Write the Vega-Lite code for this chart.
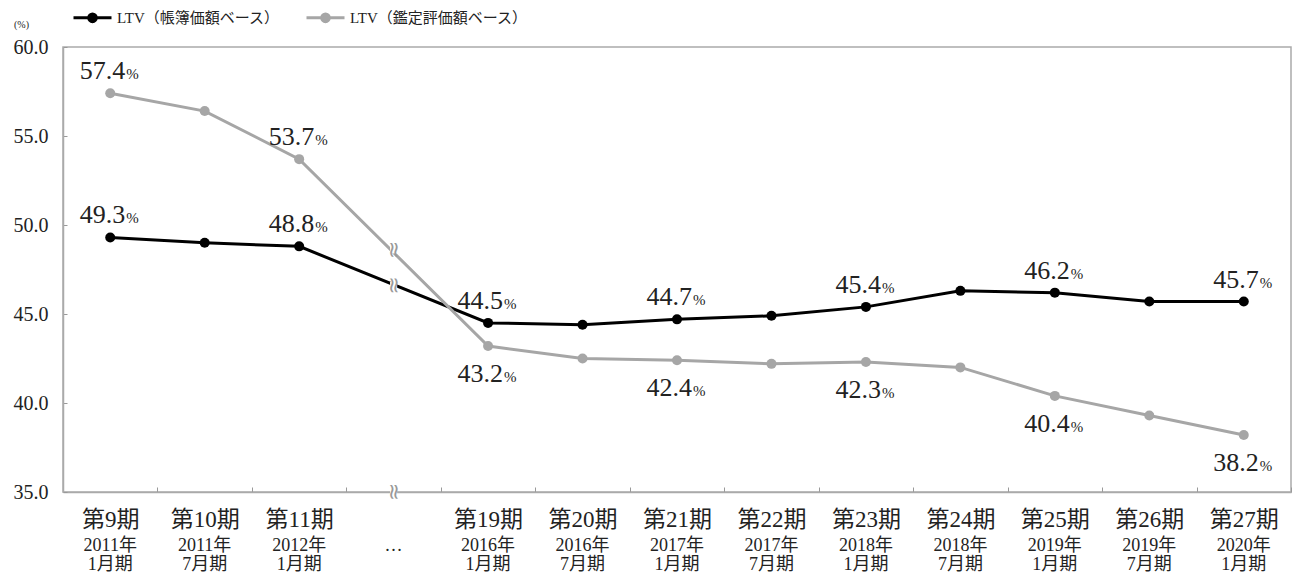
{
  "$schema": "https://vega.github.io/schema/vega-lite/v6.json",
  "width": 1228,
  "height": 445,
  "autosize": "none",
  "padding": {"left": 63, "top": 47, "right": 3, "bottom": 83},
  "background": "white",
  "config": {
    "view": {"stroke": "#aaaaaa", "strokeWidth": 1.5},
    "font": "Liberation Serif, Noto Sans CJK JP"
  },
  "datasets": {
    "ltv": [
      {"cat": "第9期|2011年|1月期", "series": "LTV（帳簿価額ベース）", "value": 49.3, "labeled": 1},
      {"cat": "第10期|2011年|7月期", "series": "LTV（帳簿価額ベース）", "value": 49.0, "labeled": 0},
      {"cat": "第11期|2012年|1月期", "series": "LTV（帳簿価額ベース）", "value": 48.8, "labeled": 1},
      {"cat": "第19期|2016年|1月期", "series": "LTV（帳簿価額ベース）", "value": 44.5, "labeled": 1},
      {"cat": "第20期|2016年|7月期", "series": "LTV（帳簿価額ベース）", "value": 44.4, "labeled": 0},
      {"cat": "第21期|2017年|1月期", "series": "LTV（帳簿価額ベース）", "value": 44.7, "labeled": 1},
      {"cat": "第22期|2017年|7月期", "series": "LTV（帳簿価額ベース）", "value": 44.9, "labeled": 0},
      {"cat": "第23期|2018年|1月期", "series": "LTV（帳簿価額ベース）", "value": 45.4, "labeled": 1},
      {"cat": "第24期|2018年|7月期", "series": "LTV（帳簿価額ベース）", "value": 46.3, "labeled": 0},
      {"cat": "第25期|2019年|1月期", "series": "LTV（帳簿価額ベース）", "value": 46.2, "labeled": 1},
      {"cat": "第26期|2019年|7月期", "series": "LTV（帳簿価額ベース）", "value": 45.7, "labeled": 0},
      {"cat": "第27期|2020年|1月期", "series": "LTV（帳簿価額ベース）", "value": 45.7, "labeled": 1},
      {"cat": "第9期|2011年|1月期", "series": "LTV（鑑定評価額ベース）", "value": 57.4, "labeled": 1},
      {"cat": "第10期|2011年|7月期", "series": "LTV（鑑定評価額ベース）", "value": 56.4, "labeled": 0},
      {"cat": "第11期|2012年|1月期", "series": "LTV（鑑定評価額ベース）", "value": 53.7, "labeled": 1},
      {"cat": "第19期|2016年|1月期", "series": "LTV（鑑定評価額ベース）", "value": 43.2, "labeled": 1},
      {"cat": "第20期|2016年|7月期", "series": "LTV（鑑定評価額ベース）", "value": 42.5, "labeled": 0},
      {"cat": "第21期|2017年|1月期", "series": "LTV（鑑定評価額ベース）", "value": 42.4, "labeled": 1},
      {"cat": "第22期|2017年|7月期", "series": "LTV（鑑定評価額ベース）", "value": 42.2, "labeled": 0},
      {"cat": "第23期|2018年|1月期", "series": "LTV（鑑定評価額ベース）", "value": 42.3, "labeled": 1},
      {"cat": "第24期|2018年|7月期", "series": "LTV（鑑定評価額ベース）", "value": 42.0, "labeled": 0},
      {"cat": "第25期|2019年|1月期", "series": "LTV（鑑定評価額ベース）", "value": 40.4, "labeled": 1},
      {"cat": "第26期|2019年|7月期", "series": "LTV（鑑定評価額ベース）", "value": 39.3, "labeled": 0},
      {"cat": "第27期|2020年|1月期", "series": "LTV（鑑定評価額ベース）", "value": 38.2, "labeled": 1}
    ],
    "breaks": [
      {"cat": " |…| ", "value": 48.6},
      {"cat": " |…| ", "value": 46.6},
      {"cat": " |…| ", "value": 35.0}
    ]
  },
  "data": {"name": "ltv"},
  "resolve": {"axis": {"x": "independent"}},
  "layer": [
    {
      "mark": {"type": "line", "strokeWidth": 3},
      "encoding": {
        "x": {
          "field": "cat", "type": "nominal", "bandPosition": 0.5,
          "scale": {"type": "band", "paddingInner": 0, "paddingOuter": 0,
            "domain": ["第9期|2011年|1月期", "第10期|2011年|7月期", "第11期|2012年|1月期", " |…| ", "第19期|2016年|1月期", "第20期|2016年|7月期", "第21期|2017年|1月期", "第22期|2017年|7月期", "第23期|2018年|1月期", "第24期|2018年|7月期", "第25期|2019年|1月期", "第26期|2019年|7月期", "第27期|2020年|1月期"]},
          "axis": {
            "orient": "bottom", "title": null, "labelAngle": 0,
            "labelExpr": "split(datum.label, '|')[0]",
            "labelFontSize": 23, "labelColor": "#222222", "labelPadding": 21,
            "tickBand": "extent", "tickSize": -5, "tickColor": "#999999",
            "domainColor": "#aaaaaa", "domainWidth": 1.5, "grid": false
          }
        },
        "y": {
          "field": "value", "type": "quantitative",
          "scale": {"domain": [35, 60], "nice": false, "zero": false},
          "axis": {
            "values": [35, 40, 45, 50, 55, 60], "format": ".1f", "grid": false,
            "labelFontSize": 20, "labelColor": "#222222", "labelPadding": 19,
            "tickSize": -4, "tickColor": "#999999", "domainColor": "#aaaaaa", "domainWidth": 1.5,
            "title": "(%)", "titleAngle": 0, "titleX": -42, "titleY": -23,
            "titleFontSize": 10, "titleFontWeight": "normal", "titleColor": "#222222",
            "titleAlign": "center", "titleBaseline": "middle"
          }
        },
        "color": {
          "field": "series", "type": "nominal",
          "scale": {"domain": ["LTV（帳簿価額ベース）", "LTV（鑑定評価額ベース）"], "range": ["#000000", "#a6a6a6"]},
          "legend": {
            "orient": "none", "legendX": 9, "legendY": -50, "direction": "horizontal",
            "title": null, "padding": 0,
            "symbolType": "M-1,0H1M-0.2,0A0.2,0.2,0,1,1,0.2,0A0.2,0.2,0,1,1,-0.2,0Z",
            "symbolSize": 1444, "symbolStrokeWidth": 3,
            "labelFontSize": 15, "labelColor": "#222222", "labelOffset": 4, "labelLimit": 0,
            "columnPadding": 20,
            "encode": {"symbols": {"update": {"fill": {"scale": "color", "field": "value"}, "stroke": {"scale": "color", "field": "value"}}}}
          }
        }
      }
    },
    {
      "mark": {"type": "point", "filled": true, "opacity": 1, "size": 100},
      "encoding": {
        "x": {
          "field": "cat", "type": "nominal", "bandPosition": 0.5,
          "axis": {
            "orient": "bottom", "title": null, "labelAngle": 0,
            "labelExpr": "[split(datum.label, '|')[1], split(datum.label, '|')[2]]",
            "labelFontSize": 18, "labelLineHeight": 19, "labelColor": "#222222",
            "labelPadding": 44, "ticks": false, "domain": false, "grid": false
          }
        },
        "y": {"field": "value", "type": "quantitative"},
        "color": {"field": "series", "type": "nominal", "legend": null}
      }
    },
    {
      "transform": [{"filter": "datum.labeled == 1 && (datum.series == 'LTV（帳簿価額ベース）' || datum.value >= 50)"}],
      "layer": [
        {
          "mark": {"type": "text", "align": "right", "baseline": "alphabetic", "dx": 15, "dy": -14, "fontSize": 26, "color": "#222222"},
          "encoding": {"text": {"field": "value", "type": "quantitative", "format": ".1f"}}
        },
        {
          "mark": {"type": "text", "align": "left", "baseline": "alphabetic", "dx": 16, "dy": -14, "fontSize": 15, "color": "#222222", "text": "%"},
          "encoding": {}
        }
      ],
      "encoding": {
        "x": {"field": "cat", "type": "nominal", "bandPosition": 0.5, "axis": null},
        "y": {"field": "value", "type": "quantitative"}
      }
    },
    {
      "transform": [{"filter": "datum.labeled == 1 && datum.series == 'LTV（鑑定評価額ベース）' && datum.value < 50"}],
      "layer": [
        {
          "mark": {"type": "text", "align": "right", "baseline": "alphabetic", "dx": 15, "dy": 36, "fontSize": 26, "color": "#222222"},
          "encoding": {"text": {"field": "value", "type": "quantitative", "format": ".1f"}}
        },
        {
          "mark": {"type": "text", "align": "left", "baseline": "alphabetic", "dx": 16, "dy": 36, "fontSize": 15, "color": "#222222", "text": "%"},
          "encoding": {}
        }
      ],
      "encoding": {
        "x": {"field": "cat", "type": "nominal", "bandPosition": 0.5, "axis": null},
        "y": {"field": "value", "type": "quantitative"}
      }
    },
    {
      "data": {"name": "breaks"},
      "layer": [
        {
          "mark": {"type": "point", "shape": "square", "filled": true, "color": "white", "opacity": 1, "size": 50},
          "encoding": {}
        },
        {
          "mark": {"type": "text", "text": "≈", "angle": 90, "fontSize": 22, "color": "#999999", "baseline": "middle", "align": "center", "font": "DejaVu Sans"},
          "encoding": {}
        }
      ],
      "encoding": {
        "x": {"field": "cat", "type": "nominal", "bandPosition": 0.5, "axis": null},
        "y": {"field": "value", "type": "quantitative"}
      }
    }
  ]
}
